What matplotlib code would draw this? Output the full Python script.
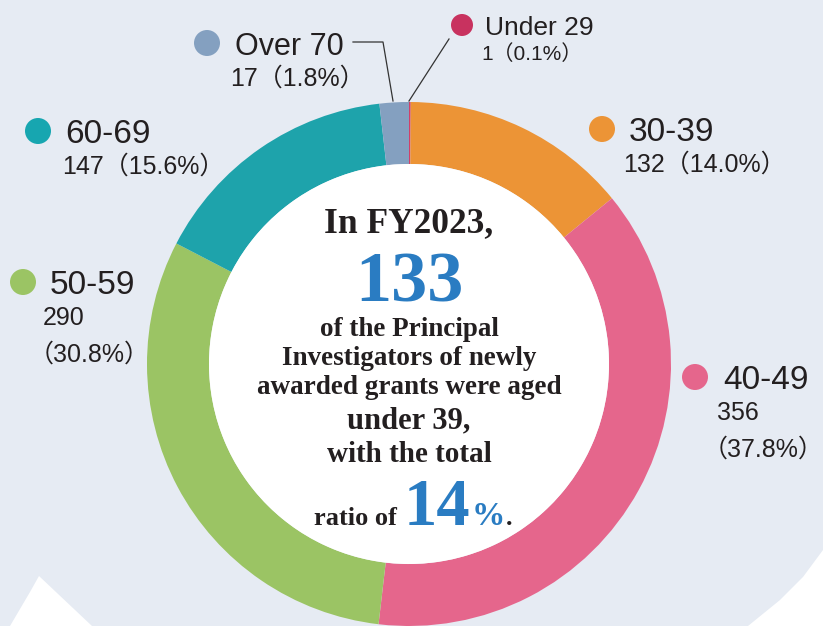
import matplotlib
matplotlib.use('Agg')
import matplotlib.pyplot as plt
from matplotlib.patches import Circle, Polygon

W, H = 823, 626

# donnees
groups = ['Under 29', '30-39', '40-49', '50-59', '60-69', 'Over 70']
counts = [1, 132, 356, 290, 147, 17]
shares = [0.1, 14.0, 37.8, 30.8, 15.6, 1.8]
colors = ['#d0406a', '#ec9436', '#e5668c', '#9bc464', '#1ea3ab', '#84a0c0']
dot_colors = ['#c8325f', '#ec9436', '#e5668c', '#9bc464', '#17a6b0', '#84a0c0']

year = 'FY2023'
n_under_39 = 133
ratio_under_39 = 14

bg = '#e6ebf3'
txt = '#231f20'
blue = '#2a7cc2'
sans = ['Liberation Sans', 'Noto Sans CJK JP', 'DejaVu Sans']
serif = ['Liberation Serif', 'DejaVu Serif']


def Y(y):
    # coordonnees image (y vers le bas) -> donnees
    return H - y


fig = plt.figure(figsize=(W / 100, H / 100), dpi=100)
fig.patch.set_facecolor(bg)
ax = fig.add_axes([0, 0, 1, 1])

# formes blanches du fond
ax.add_patch(Polygon([(39, Y(576)), (30, Y(592)), (20, Y(609)), (10, Y(626)), (92, Y(626))],
                     closed=True, color='white', lw=0, zorder=0))
ax.add_patch(Polygon([(823, Y(550)), (803, Y(577)), (780, Y(600)), (748, Y(626)), (823, Y(626))],
                     closed=True, color='white', lw=0, zorder=0))

# anneau
cx, cy, R, ring = 409, Y(364), 262, 62
ax.pie(counts, colors=colors, startangle=90, counterclock=False,
       center=(cx, cy), radius=R, wedgeprops=dict(width=ring, linewidth=0))
ax.add_patch(Circle((cx, cy), R - ring, color='white', lw=0, zorder=3))

ax.set_xlim(0, W)
ax.set_ylim(0, H)
ax.set_aspect('equal')
ax.axis('off')

# etiquettes : (point x, y, rayon), (nom x, y baseline, taille), lignes
layout = {
    'Under 29': ((462, 25, 11), (485, 35, 19), [(481, 60, 15)]),
    '30-39': ((602, 129, 13), (629, 141, 24), [(623, 172, 18)]),
    '40-49': ((695, 377, 13), (723, 389, 24), [(717, 420, 18), (703, 457, 18)]),
    '50-59': ((23, 282, 13), (50, 294, 24), [(43, 325, 18), (29, 362, 18)]),
    '60-69': ((38, 131, 13), (65, 143, 24), [(62, 174, 18)]),
    'Over 70': ((207, 43, 13), (235, 55, 22), [(230, 86, 18)]),
}

for g, c, s, dc in zip(groups, counts, shares, dot_colors):
    (dx, dy, dr), (nx, ny, ns), lines = layout[g]
    ax.add_patch(Circle((dx, Y(dy)), dr, color=dc, lw=0, zorder=4))
    ax.text(nx, Y(ny), g, fontsize=ns, color=txt, family=sans, va='baseline', ha='left')
    if len(lines) == 1:
        parts = [f'{c}（{s:.1f}%）']
    else:
        parts = [f'{c}', f'（{s:.1f}%）']
    for (lx, ly, ls), p in zip(lines, parts):
        ax.text(lx, Y(ly), p, fontsize=ls, color=txt, family=sans, va='baseline', ha='left')

# traits de rappel
ax.plot([353, 383, 393], [Y(42), Y(42), Y(101)], color='#333333', lw=0.9, zorder=5)
ax.plot([449, 409], [Y(39), Y(101)], color='#333333', lw=0.9, zorder=5)

# texte central
kw = dict(family=serif, weight='bold', color=txt, ha='center', va='baseline', zorder=6)
ax.text(cx, Y(232), f'In {year},', fontsize=25.5, **kw)
ax.text(cx, Y(302), f'{n_under_39}', fontsize=52, family=serif, weight='bold', color=blue,
        ha='center', va='baseline', zorder=6)
ax.text(cx, Y(336), 'of the Principal', fontsize=19.5, **kw)
ax.text(cx, Y(365), 'Investigators of newly', fontsize=19.5, **kw)
ax.text(cx, Y(394), 'awarded grants were aged', fontsize=19.5, **kw)
ax.text(cx, Y(428), 'under 39,', fontsize=22, **kw)
ax.text(cx, Y(462), 'with the total', fontsize=21, **kw)

# derniere ligne : morceaux colles les uns aux autres
kw2 = dict(family=serif, weight='bold', va='baseline', ha='left', zorder=6)
ax.text(397, Y(525), 'ratio of', fontsize=19, color=txt, ha='right',
        family=serif, weight='bold', va='baseline', zorder=6)
x = 404
renderer = fig.canvas.get_renderer()
for piece, size, col in [(f'{ratio_under_39}', 48, blue), ('%', 24, blue), ('.', 19, txt)]:
    t = ax.text(x, Y(525), piece, fontsize=size, color=col, **kw2)
    bb = t.get_window_extent(renderer=renderer)
    x = ax.transData.inverted().transform((bb.x1, bb.y0))[0] + 1

fig.savefig('out.png', dpi=100, facecolor=fig.get_facecolor())
